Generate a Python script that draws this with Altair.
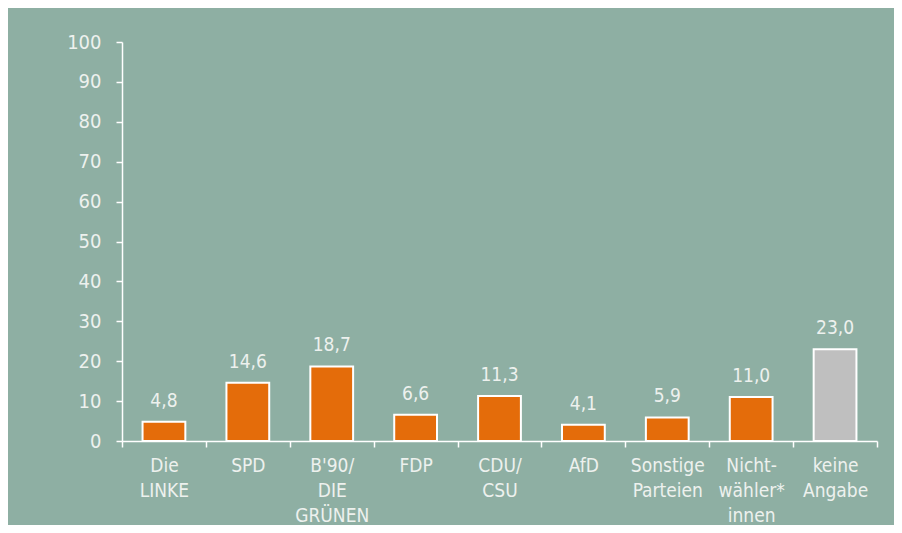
import altair as alt
import pandas as pd

categories = ["Die|LINKE", "SPD", "B'90/|DIE|GRÜNEN", "FDP", "CDU/|CSU", "AfD",
              "Sonstige|Parteien", "Nicht-|wähler*|innen", "keine|Angabe"]
values = [4.8, 14.6, 18.7, 6.6, 11.3, 4.1, 5.9, 11.0, 23.0]
groups = ["p", "p", "p", "p", "p", "p", "p", "p", "k"]
y_ticks = [0, 10, 20, 30, 40, 50, 60, 70, 80, 90, 100]

labels = [f"{v:.1f}".replace(".", ",") for v in values]

df = pd.DataFrame({"cat": categories, "val": values, "grp": groups, "lab": labels})

FONT = "Liberation Sans Narrow, Arial Narrow, DejaVu Sans Condensed, sans-serif"
TXT = "#EDF1EE"
BG = "#8EAFA3"

x = alt.X("cat:N", sort=None, title=None,
          scale=alt.Scale(paddingInner=0, paddingOuter=0),
          axis=alt.Axis(labelExpr="split(datum.label, '|')", labelAngle=0,
                        tickBand="extent", domainColor="white", domainWidth=1.5,
                        tickColor="white", tickWidth=1.5, tickSize=6,
                        labelColor=TXT, labelFont=FONT, labelFontSize=19,
                        labelLineHeight=25, labelPadding=9, labelBaseline="top"))

y = alt.Y("val:Q", title=None,
          scale=alt.Scale(domain=[0, 100], nice=False),
          axis=alt.Axis(values=y_ticks, grid=False, labelOverlap=False,
                        domainColor="white", domainWidth=1.5,
                        tickColor="white", tickWidth=1.5, tickSize=6,
                        labelColor=TXT, labelFont=FONT, labelFontSize=20,
                        labelPadding=15))

bars = alt.Chart(df).mark_bar(width=alt.RelativeBandSize(0.51), stroke="white",
                              strokeWidth=2).encode(
    x=x, y=y,
    color=alt.Color("grp:N", scale=alt.Scale(domain=["p", "k"],
                                             range=["#E46C0A", "#BFBFBF"]),
                    legend=None))

text = alt.Chart(df).mark_text(baseline="alphabetic", dy=-15, color=TXT,
                               font=FONT, fontSize=19).encode(
    x=x, y=y, text="lab:N")

chart = alt.layer(bars, text).properties(
    width=755, height=399,
    background=BG,
    padding={"left": 114, "top": 34, "right": 17, "bottom": 84},
    autosize=alt.AutoSizeParams(type="none"),
).configure_view(stroke=None)

chart.save("out.html", embed_options={"renderer": "svg", "actions": False})
